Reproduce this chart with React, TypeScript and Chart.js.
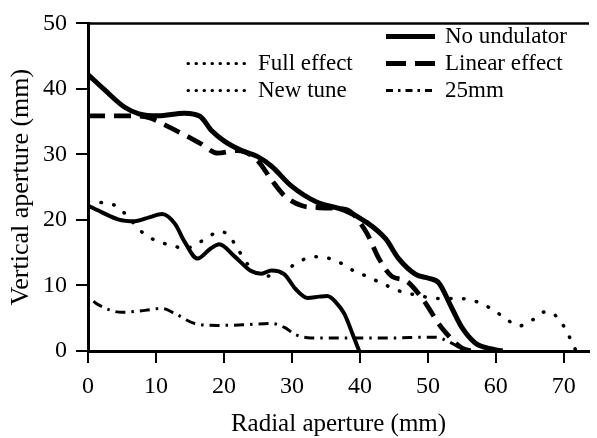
import React, { useEffect, useRef } from 'react';
import { Chart, registerables } from 'chart.js';

Chart.register(...registerables);

// ---- Data ----
const xTicks = [0, 10, 20, 30, 40, 50, 60, 70];
const yTicks = [0, 10, 20, 30, 40, 50];

const seriesLabels = ['No undulator', 'Linear effect', 'Full effect', 'New tune', '25mm'];

const noUndulatorX = [0, 2.5, 5.4, 7.5, 10.3, 14.2, 16.5, 18.2, 20.1, 22.6, 24.9, 27, 29.9, 33.7, 37.7, 40.9, 43.8, 45.7, 48.2, 50.1, 51.6, 53.5, 55, 57, 59.4, 61];
const noUndulatorY = [42.2, 39.8, 37.2, 36.2, 35.9, 36.3, 35.8, 33.6, 32, 30.6, 29.7, 28.2, 25.2, 22.7, 21.5, 19.7, 17.1, 14.1, 11.7, 11.1, 10.4, 6.6, 3.6, 1.2, 0.3, 0];

const linearEffectX = [0, 4, 6.9, 9, 11.5, 13.8, 16.5, 19.1, 22, 24.9, 27, 28.9, 31.4, 33.7, 36, 38, 40.9, 42.8, 44.7, 46.8, 49.1, 52, 55, 56.5];
const linearEffectY = [35.9, 35.9, 35.9, 35.6, 34.4, 33.2, 31.7, 30.2, 30.6, 29.1, 26.1, 23.7, 22.2, 21.9, 21.8, 21.6, 18.2, 14.1, 11.4, 10.7, 8.1, 3.6, 0.45, 0];

const fullEffectX = [0, 2, 4.4, 6.9, 9, 10.9, 12.8, 14.2, 16.1, 18, 19.3, 21.6, 24, 25.5, 27, 28.9, 30.5, 32.3, 34, 35.2, 36.5, 37.7, 39.1, 39.9];
const fullEffectY = [22.2, 21.2, 20.1, 19.8, 20.4, 20.9, 19.4, 16.7, 14.1, 15.6, 16.3, 14.4, 12.2, 11.8, 12.3, 11.7, 9.5, 8.1, 8.3, 8.4, 7.4, 5.7, 2.1, 0];

const newTuneX = [0, 1.5, 4, 5.7, 7.9, 10.3, 12.5, 14.2, 16.1, 18, 19.1, 20.5, 22, 24, 26, 28.9, 31.1, 33.7, 36.7, 38.4, 41, 43.5, 45.7, 48.5, 51.6, 55, 57.5, 59.4, 61.4, 63.3, 65.5, 67.3, 69.2, 70.5, 71.8];
const newTuneY = [22.8, 22.7, 22.2, 20.7, 18.2, 16.7, 16.1, 15.6, 16.4, 17.6, 18.2, 17.9, 15.6, 12.6, 11.4, 12.2, 13.7, 14.4, 13.7, 12.6, 11.4, 10.2, 9.2, 8.5, 8, 8, 7.4, 6.4, 5, 3.8, 4.8, 6, 5, 2.8, 0];

const mm25X = [0.8, 1.3, 5, 8.4, 10.9, 12.8, 15.7, 19.1, 23, 27, 28.9, 30.5, 32.8, 36, 40.9, 45, 49.7, 51.2, 53.1, 54.5, 55.6];
const mm25Y = [7.6, 7.2, 5.9, 6.2, 6.5, 5.7, 4.2, 3.9, 4, 4.2, 3.6, 2.5, 2, 2, 2, 2, 2.1, 2.1, 1.4, 0.6, 0];

const FONT = "'Liberation Serif', 'Times New Roman', serif";

const toPoints = (xs: number[], ys: number[]) => xs.map((x, i) => ({ x, y: ys[i] }));

// legend layout (which dataset, which column, which row)
const legendLayout = [
  { ds: 0, col: 1, row: 0 },
  { ds: 1, col: 1, row: 1 },
  { ds: 4, col: 1, row: 2 },
  { ds: 2, col: 0, row: 1 },
  { ds: 3, col: 0, row: 2 },
];

const legendPlugin = {
  id: 'customLegend',
  afterDraw(chart: any) {
    const ctx = chart.ctx as CanvasRenderingContext2D;
    const colSample = [
      { x0: 188, x1: 248, tx: 258 },
      { x0: 386, x1: 435, tx: 445 },
    ];
    const rowBase = [43, 70, 97];
    ctx.save();
    ctx.fillStyle = '#000';
    ctx.strokeStyle = '#000';
    ctx.font = `23px ${FONT}`;
    ctx.textBaseline = 'alphabetic';
    ctx.textAlign = 'left';
    for (const item of legendLayout) {
      const ds = chart.data.datasets[item.ds];
      const c = colSample[item.col];
      const by = rowBase[item.row];
      const sy = by - 6.5;
      ctx.beginPath();
      if (item.ds === 2 || item.ds === 3) {
        ctx.setLineDash([0.5, 7.5]);
        ctx.lineCap = 'round';
        ctx.lineWidth = 3;
      } else if (item.ds === 1) {
        ctx.setLineDash([20, 9]);
        ctx.lineCap = 'butt';
        ctx.lineWidth = 5;
      } else if (item.ds === 4) {
        ctx.setLineDash([7, 5, 2.5, 5]);
        ctx.lineCap = 'butt';
        ctx.lineWidth = 3;
      } else {
        ctx.setLineDash([]);
        ctx.lineCap = 'butt';
        ctx.lineWidth = 5;
      }
      ctx.moveTo(c.x0, sy);
      ctx.lineTo(c.x1, sy);
      ctx.stroke();
      ctx.setLineDash([]);
      ctx.fillText(ds.label, c.tx, by);
    }
    // top frame line
    const a = chart.chartArea;
    ctx.beginPath();
    ctx.lineCap = 'butt';
    ctx.lineWidth = 2.5;
    ctx.moveTo(a.left, a.top);
    ctx.lineTo(a.right, a.top);
    ctx.stroke();
    ctx.restore();
  },
};

export default function App() {
  const ref = useRef<HTMLCanvasElement | null>(null);

  useEffect(() => {
    document.body.style.margin = '0';
    if (!ref.current) return;
    const common = { fill: false, pointRadius: 0, borderColor: '#000', cubicInterpolationMode: 'monotone' as const };
    const chart = new Chart(ref.current, {
      type: 'line',
      data: {
        datasets: [
          { ...common, label: seriesLabels[0], data: toPoints(noUndulatorX, noUndulatorY), borderWidth: 5 },
          { ...common, label: seriesLabels[1], data: toPoints(linearEffectX, linearEffectY), borderWidth: 4.8, borderDash: [17, 9] },
          { ...common, label: seriesLabels[2], data: toPoints(fullEffectX, fullEffectY), borderWidth: 4 },
          { ...common, label: seriesLabels[3], data: toPoints(newTuneX, newTuneY), borderWidth: 3.5, borderDash: [0.5, 12.5], borderCapStyle: 'round' },
          { ...common, label: seriesLabels[4], data: toPoints(mm25X, mm25Y), borderWidth: 3, borderDash: [10, 6, 2.5, 6] },
        ],
      },
      options: {
        animation: false,
        responsive: false,
        maintainAspectRatio: false,
        layout: { padding: { top: 18, right: 8, left: 0, bottom: 0 } },
        plugins: { legend: { display: false }, tooltip: { enabled: false } },
        scales: {
          x: {
            type: 'linear',
            min: 0,
            max: 73.7,
            afterFit: (s: any) => { s.height = 87; },
            afterBuildTicks: (s: any) => { s.ticks = xTicks.map((v) => ({ value: v })); },
            grid: { display: true, drawOnChartArea: false, drawTicks: true, tickLength: 12, lineWidth: 2, color: '#000' },
            border: { display: true, width: 3, color: '#000' },
            ticks: { color: '#000', font: { family: FONT, size: 24 }, padding: 9, maxRotation: 0 },
            title: { display: true, text: 'Radial aperture (mm)', color: '#000', font: { family: FONT, size: 25, lineHeight: 1.05 }, padding: { top: 0, bottom: 0 } },
          },
          y: {
            type: 'linear',
            min: 0,
            max: 50,
            afterFit: (s: any) => { s.width = 88; },
            afterBuildTicks: (s: any) => { s.ticks = yTicks.map((v) => ({ value: v })); },
            grid: { display: true, drawOnChartArea: false, drawTicks: true, tickLength: 12, lineWidth: 2, color: '#000' },
            border: { display: true, width: 3, color: '#000' },
            ticks: { color: '#000', font: { family: FONT, size: 24 }, padding: 9 },
            title: { display: true, text: 'Vertical aperture (mm)', color: '#000', font: { family: FONT, size: 26, lineHeight: 1.2 }, padding: { top: 6, bottom: 0 } },
          },
        },
      },
      plugins: [legendPlugin],
    });
    return () => chart.destroy();
  }, []);

  return (
    <div style={{ width: 597, height: 438 }}>
      <canvas ref={ref} width={597} height={438} style={{ display: 'block' }} />
    </div>
  );
}
